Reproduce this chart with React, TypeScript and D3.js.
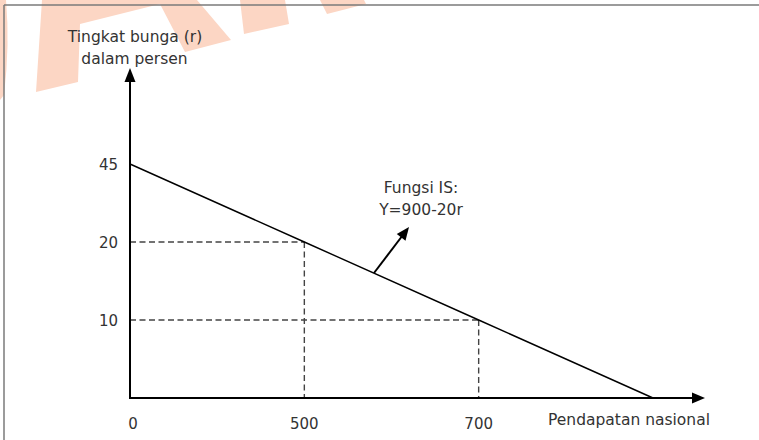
import React from "react";
import * as d3 from "d3";

// Schematic IS curve diagram: Y = 900 - 20r
const incomeTicks = [0, 500, 700, 900];
const incomeLabels = ["0", "500", "700", ""];
const rateTicks = [0, 10, 20, 45];
const rateLabels = ["", "10", "20", "45"];
const isIncome = [0, 500, 700, 900];
const isRate = [45, 20, 10, 0];
const guideIncome = [500, 700];
const guideRate = [20, 10];

const W = 759;
const H = 440;
const FONT = "'DejaVu Sans', Verdana, sans-serif";
const TXT = "#333";

export default function App() {
  const x = d3.scalePoint<number>().domain(incomeTicks).range([130, 653]);
  const y = d3.scalePoint<number>().domain(rateTicks).range([398, 164]);
  const x0 = x(0)!;
  const y0 = y(0)!;

  const line = d3
    .line<number>()
    .x((d) => x(d)!)
    .y((_, i) => y(isRate[i])!);

  const yAxisTop = 68;
  const xAxisEnd = 705;

  const annStart: [number, number] = [374, 273];
  const annEnd: [number, number] = [409, 227];
  const ang = Math.atan2(annEnd[1] - annStart[1], annEnd[0] - annStart[0]);
  const aL = 13, aW = 5.5;
  const ax = annEnd[0], ay = annEnd[1];
  const bx = ax - aL * Math.cos(ang), by = ay - aL * Math.sin(ang);
  const headPts = [
    [ax, ay],
    [bx + aW * Math.sin(ang), by - aW * Math.cos(ang)],
    [bx - aW * Math.sin(ang), by + aW * Math.cos(ang)],
  ]
    .map((p) => p.join(","))
    .join(" ");

  const wm = "rgb(252,214,196)";

  return (
    <svg
      width={W}
      height={H}
      style={{ position: "absolute", left: 0, top: 0, background: "#fff" }}
      fontFamily={FONT}
    >
      {/* watermark fragments */}
      <g fill={wm}>
        <path d="M0,0 L6,0 Q10,45 4,95 L0,100 Z" />
        <path d="M42,0 L197,0 L231,40 L185,52 L160,4 L80,24 L78,82 L36,92 Z" />
        <path d="M240,0 L285,0 L289,24 L244,34 Z" />
        <path d="M320,0 L364,0 L366,4 L327,14 Z" />
      </g>

      {/* frame */}
      <line x1={4} y1={5} x2={W} y2={5} stroke="#7a7a7a" strokeWidth={1.5} />
      <line x1={4} y1={5} x2={4} y2={H} stroke="#7a7a7a" strokeWidth={1.5} />

      {/* guide dashed lines */}
      {guideIncome.map((g, i) => (
        <g key={g} stroke="#444" strokeWidth={1.4} strokeDasharray="6,3.5" fill="none">
          <line x1={x0} y1={y(guideRate[i])!} x2={x(g)!} y2={y(guideRate[i])!} />
          <line x1={x(g)!} y1={y(guideRate[i])!} x2={x(g)!} y2={y0} />
        </g>
      ))}

      {/* IS line */}
      <path d={line(isIncome) || ""} fill="none" stroke="#000" strokeWidth={1.4} />

      {/* axes */}
      <line x1={x0} y1={y0} x2={x0} y2={yAxisTop + 10} stroke="#000" strokeWidth={2} />
      <polygon points={`${x0},${yAxisTop} ${x0 - 5.5},${yAxisTop + 14} ${x0 + 5.5},${yAxisTop + 14}`} fill="#000" />
      <line x1={x0 - 1} y1={y0} x2={xAxisEnd - 10} y2={y0} stroke="#000" strokeWidth={2} />
      <polygon points={`${xAxisEnd},${y0} ${xAxisEnd - 13},${y0 - 5.5} ${xAxisEnd - 13},${y0 + 5.5}`} fill="#000" />

      {/* annotation arrow */}
      <line x1={annStart[0]} y1={annStart[1]} x2={bx + 2 * Math.cos(ang)} y2={by + 2 * Math.sin(ang)} stroke="#000" strokeWidth={2} />
      <polygon points={headPts} fill="#000" />

      {/* tick labels */}
      <g fontSize={15} fill={TXT}>
        {rateTicks.map((t, i) =>
          rateLabels[i] ? (
            <text key={t} x={118} y={y(t)! + 5.5} textAnchor="end">
              {rateLabels[i]}
            </text>
          ) : null
        )}
        {incomeTicks.map((t, i) =>
          incomeLabels[i] ? (
            <text key={t} x={x(t)! + (i === 0 ? 3 : 0)} y={429} textAnchor="middle">
              {incomeLabels[i]}
            </text>
          ) : null
        )}
      </g>

      {/* titles */}
      <g fontSize={15.5} fill={TXT}>
        <text x={135} y={42} textAnchor="middle">Tingkat bunga (r)</text>
        <text x={134.5} y={64} textAnchor="middle">dalam persen</text>
        <text x={548} y={425}>Pendapatan nasional</text>
        <text x={421} y={193} textAnchor="middle">Fungsi IS:</text>
        <text x={421} y={215} textAnchor="middle">Y=900-20r</text>
      </g>
    </svg>
  );
}
